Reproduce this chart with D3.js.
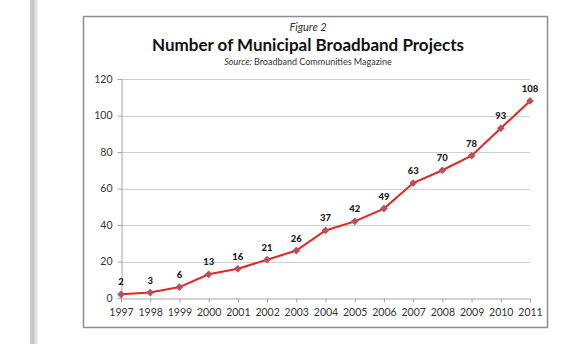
<!DOCTYPE html>
<html>
<head>
<meta charset="utf-8">
<script src="https://cdn.jsdelivr.net/npm/d3@7"></script>
<style>
  body { margin: 0; background: #fff; }
  svg { display: block; font-family: Lato, "Open Sans", sans-serif; }
</style>
</head>
<body>
<div id="chart"></div>
<script>
'use strict';

var years = ['1997', '1998', '1999', '2000', '2001', '2002', '2003', '2004',
             '2005', '2006', '2007', '2008', '2009', '2010', '2011'];
var projects = [2, 3, 6, 13, 16, 21, 26, 37, 42, 49, 63, 70, 78, 93, 108];
var yTicks = [0, 20, 40, 60, 80, 100, 120];

var width = 564, height = 344;
var plot = {left: 121, right: 530, top: 79, bottom: 298};

var svg = d3.select('#chart').append('svg')
    .attr('width', width)
    .attr('height', height);

// page edge shadow on the left
var grad = svg.append('defs').append('linearGradient')
    .attr('id', 'edge')
    .attr('x1', 0).attr('x2', 1).attr('y1', 0).attr('y2', 0);
grad.append('stop').attr('offset', '0%').attr('stop-color', '#d4d4d4');
grad.append('stop').attr('offset', '35%').attr('stop-color', '#c4c4c4');
grad.append('stop').attr('offset', '100%').attr('stop-color', '#f2f2f2');
svg.append('rect')
    .attr('x', 30).attr('y', 0)
    .attr('width', 8).attr('height', height)
    .attr('fill', 'url(#edge)');

// chart frame
svg.append('rect')
    .attr('x', 83.5).attr('y', 16.5)
    .attr('width', 464).attr('height', 311)
    .attr('fill', '#fff')
    .attr('stroke', '#8c8c8c')
    .attr('stroke-width', 1.5);

var x = d3.scalePoint()
    .domain(years)
    .range([plot.left, plot.right]);

var y = d3.scaleLinear()
    .domain([0, 120])
    .range([plot.bottom, plot.top]);

// gridlines
svg.append('g')
    .selectAll('line')
    .data(yTicks.filter(function (d) { return d > 0; }))
    .enter().append('line')
    .attr('x1', plot.left).attr('x2', plot.right)
    .attr('y1', function (d) { return Math.round(y(d)) + 0.5; })
    .attr('y2', function (d) { return Math.round(y(d)) + 0.5; })
    .attr('stroke', '#cfcfcf')
    .attr('stroke-width', 1);

// y axis
var yAxis = svg.append('g')
    .attr('transform', 'translate(' + (plot.left + 0.5) + ',0)')
    .call(d3.axisLeft(y).tickValues(yTicks).tickSize(4).tickPadding(5));

// x axis
var xAxis = svg.append('g')
    .attr('transform', 'translate(0,' + (Math.round(plot.bottom) + 0.5) + ')')
    .call(d3.axisBottom(x).tickSize(4).tickPadding(6));

[yAxis, xAxis].forEach(function (ax) {
    ax.select('.domain').attr('stroke', '#a6a6a6');
    ax.selectAll('.tick line').attr('stroke', '#a6a6a6');
    ax.selectAll('.tick text')
        .attr('fill', '#333')
        .style('font-size', '10.5px')
        .style('font-family', 'Lato, sans-serif');
});

// series line
var line = d3.line()
    .x(function (d, i) { return x(years[i]); })
    .y(function (d) { return y(d); });

svg.append('path')
    .datum(projects)
    .attr('d', line)
    .attr('fill', 'none')
    .attr('stroke', '#e42520')
    .attr('stroke-width', 2);

// diamond markers (squares turned 45 degrees)
svg.append('g')
    .selectAll('path')
    .data(projects)
    .enter().append('path')
    .attr('transform', function (d, i) {
        return 'translate(' + x(years[i]) + ',' + y(d) + ') rotate(45)';
    })
    .attr('d', d3.symbol().type(d3.symbolSquare).size(30))
    .attr('fill', '#b5525c');

// value labels
svg.append('g')
    .selectAll('text')
    .data(projects)
    .enter().append('text')
    .attr('x', function (d, i) { return x(years[i]); })
    .attr('y', function (d) { return y(d) - 9; })
    .attr('text-anchor', 'middle')
    .style('font-size', '9.5px')
    .style('font-weight', 900)
    .attr('fill', '#1a1a1a')
    .text(function (d) { return d; });

// titles
svg.append('text')
    .attr('x', 308).attr('y', 31)
    .attr('text-anchor', 'middle')
    .style('font-size', '11px')
    .style('font-style', 'italic')
    .attr('fill', '#333')
    .text('Figure 2');

svg.append('text')
    .attr('x', 308).attr('y', 51)
    .attr('text-anchor', 'middle')
    .style('font-size', '17px')
    .style('font-weight', 'bold')
    .attr('fill', '#111')
    .text('Number of Municipal Broadband Projects');

var src = svg.append('text')
    .attr('x', 308).attr('y', 65)
    .attr('text-anchor', 'middle')
    .style('font-size', '9px')
    .attr('fill', '#333');
src.append('tspan').style('font-style', 'italic').text('Source:');
src.append('tspan').text(' Broadband Communities Magazine');
</script>
</body>
</html>
